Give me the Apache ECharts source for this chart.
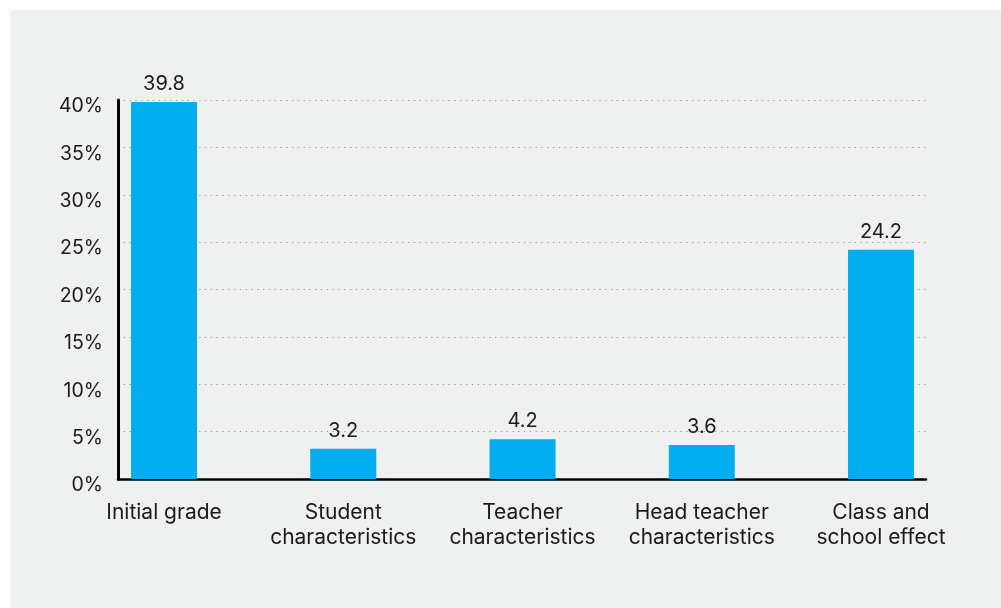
<!DOCTYPE html>
<html>
<head>
<meta charset="utf-8">
<script src="https://cdn.jsdelivr.net/npm/echarts@6/dist/echarts.min.js"></script>
<style>
html,body{margin:0;padding:0;background:#ffffff;}
#chart{width:1001px;height:608px;}
</style>
</head>
<body>
<div id="chart"></div>
<script>
const categories = ['Initial grade', 'Student\ncharacteristics', 'Teacher\ncharacteristics', 'Head teacher\ncharacteristics', 'Class and\nschool effect'];
const values = [39.8, 3.2, 4.2, 3.6, 24.2];
const yMin = 0, yMax = 40, yStep = 5;

const FONT = 'Inter, Liberation Sans, Arial, sans-serif';
const TEXT = '#1a1a1a';

const chart = echarts.init(document.getElementById('chart'), null, {renderer: 'canvas'});
chart.setOption({
  backgroundColor: '#ffffff',
  animation: false,
  graphic: [{
    type: 'rect', z: -10, silent: true,
    shape: {x: 10, y: 10, width: 991, height: 598},
    style: {fill: '#eff0f0'}
  }],
  grid: [
    {left: 118, right: 75, top: 100, bottom: 129},
    {left: 74.4, right: 30.35, top: 100, bottom: 129}
  ],
  xAxis: [
    {
      type: 'category', gridIndex: 0, data: categories,
      axisLine: {show: true, lineStyle: {color: '#000', width: 2.5}},
      axisTick: {show: false}, axisLabel: {show: false}, splitLine: {show: false}
    },
    {
      type: 'category', gridIndex: 1, data: categories,
      axisLine: {show: false}, axisTick: {show: false},
      axisLabel: {
        color: TEXT, fontFamily: FONT, fontSize: 21, lineHeight: 25,
        margin: 21, interval: 0
      }
    }
  ],
  yAxis: [
    {
      type: 'value', gridIndex: 0, min: yMin, max: yMax, interval: yStep,
      axisLine: {show: true, lineStyle: {color: '#000', width: 3}},
      axisTick: {show: false},
      axisLabel: {
        color: TEXT, fontFamily: FONT, fontSize: 19.5, margin: 15,
        verticalAlign: 'top', lineHeight: 13,
        formatter: v => v + '%'
      },
      splitLine: {show: true, lineStyle: {color: '#9a9a9a', width: 1.2, type: [1.3, 4.5]}}
    },
    {
      type: 'value', gridIndex: 1, min: yMin, max: yMax, interval: yStep,
      axisLine: {show: false}, axisTick: {show: false}, axisLabel: {show: false},
      splitLine: {show: false}
    }
  ],
  series: [{
    type: 'bar', xAxisIndex: 1, yAxisIndex: 1,
    data: values, barWidth: 66,
    itemStyle: {color: '#00aeef'},
    label: {
      show: true, position: 'top', distance: 8,
      color: TEXT, fontFamily: FONT, fontSize: 20,
      formatter: p => p.value.toFixed(1)
    }
  }]
});
</script>
</body>
</html>
